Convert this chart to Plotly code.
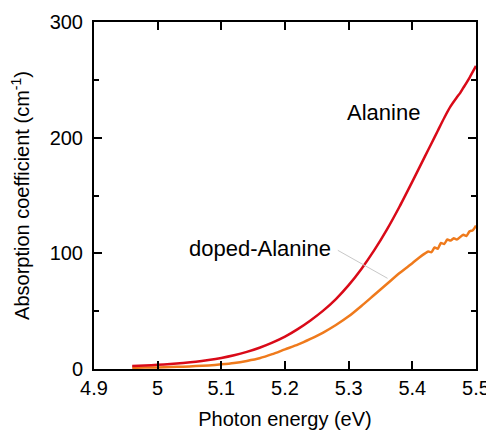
import plotly.graph_objects as go

# photon energy (eV) and absorption coefficient (cm^-1)
energy_ala = [4.96, 4.98, 5.0, 5.02, 5.04, 5.06, 5.08, 5.1, 5.12, 5.14, 5.16, 5.18,
              5.2, 5.22, 5.24, 5.26, 5.28, 5.3, 5.32, 5.34, 5.36, 5.38, 5.4, 5.42,
              5.43, 5.44, 5.45, 5.46, 5.47, 5.475, 5.48, 5.49, 5.5]
alpha_ala = [2.5, 3.0, 3.6, 4.3, 5.2, 6.3, 7.8, 9.6, 11.9, 14.8, 18.4, 22.8,
             28, 34.5, 42, 50.5, 60.5, 72.5, 86.5, 102.5, 120.5, 140.5, 162, 184,
             195, 206, 217, 227, 235, 238.5, 243, 252, 262]

energy_dop = [4.96, 4.98, 5.0, 5.02, 5.04, 5.06, 5.08, 5.1, 5.12, 5.14, 5.16, 5.18,
              5.2, 5.22, 5.24, 5.26, 5.28, 5.3, 5.32, 5.34, 5.36, 5.38, 5.4,
              5.41, 5.42, 5.425, 5.43, 5.435, 5.44, 5.445, 5.45, 5.455, 5.46, 5.465,
              5.47, 5.48, 5.485, 5.49, 5.495, 5.5]
alpha_dop = [1, 1.2, 1.4, 1.7, 2.0, 2.5, 3.1, 4.0, 5.2, 7.0, 9.3, 12.8,
             17, 21, 26, 31.5, 38, 45.5, 54.5, 64, 73.5, 83, 91.5,
             96, 100, 101.5, 101, 105, 104, 109, 108, 112, 111, 113,
             112, 116, 115, 119, 120, 124]

font = "Liberation Sans, Arial, sans-serif"

fig = go.Figure()
fig.add_trace(go.Scatter(x=energy_dop, y=alpha_dop, mode="lines",
                         line=dict(color="#ef7a1c", width=2.5, shape="spline", smoothing=0.6),
                         name="doped-Alanine"))
fig.add_trace(go.Scatter(x=energy_ala, y=alpha_ala, mode="lines",
                         line=dict(color="#d90a18", width=2.5, shape="spline", smoothing=0.6),
                         name="Alanine"))

# leader line from the label to the doped curve
fig.add_shape(type="line", x0=5.283, y0=102.6, x1=5.361, y1=78.4,
              line=dict(color="#c8c8c8", width=1))

fig.add_annotation(x=5.354, y=221.5, text="Alanine", showarrow=False,
                   font=dict(size=22, color="black", family=font))
fig.add_annotation(x=5.161, y=104.3, text="doped-Alanine", showarrow=False,
                   font=dict(size=22, color="black", family=font))

axis_common = dict(showline=True, linecolor="black", linewidth=2, mirror="ticks",
                   ticks="inside", ticklen=8, tickwidth=2, tickcolor="black",
                   showgrid=False, zeroline=False, automargin=False,
                   tickfont=dict(size=20, color="black", family=font))

fig.update_xaxes(range=[4.9, 5.5], dtick=0.1, tick0=4.9, ticklabelstandoff=0,
                 title=dict(text="Photon energy (eV)", standoff=14,
                            font=dict(size=20, color="black", family=font)),
                 **axis_common)
fig.update_yaxes(range=[0, 300], dtick=100, ticklabelstandoff=5,
                 minor=dict(ticks="inside", ticklen=5, tickwidth=2, dtick=50, tickcolor="black"),
                 title=dict(text="Absorption coefficient (cm<sup>-1</sup>)", standoff=16,
                            font=dict(size=20, color="black", family=font)),
                 **axis_common)

# the page body keeps its default 8px margin, so the figure is 8px smaller
fig.update_layout(width=486, height=423, showlegend=False,
                  plot_bgcolor="white", paper_bgcolor="white",
                  margin=dict(l=86, r=18, t=14, b=62),
                  font=dict(family=font, color="black"))

fig.write_html("out.html")
